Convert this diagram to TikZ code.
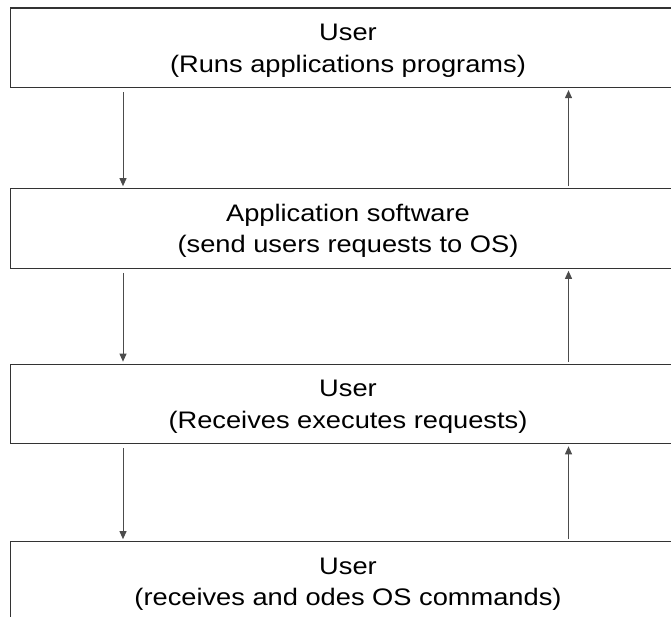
\documentclass[tikz,border=0pt]{standalone}
\usepackage{fontspec}
\setmainfont{Liberation Sans}[FakeStretch=1.14]
\usetikzlibrary{arrows.meta}
\begin{document}
\begin{tikzpicture}[x=1pt,y=-1pt,
  layerbox/.style={draw=black!80, line width=1.2pt, minimum width=675.5pt, minimum height=79.5pt, inner sep=0pt},
  lbl/.style={anchor=base, inner sep=0pt, font=\fontsize{23.9}{32}\selectfont},
  arr/.style={draw=black!70, line width=1pt, -{Triangle[length=8pt,width=7pt]}}]
\useasboundingbox (0,0) rectangle (671,617);
\clip (0,0) rectangle (671,617);
\fill[white] (0,0) rectangle (671,617);
% boxes
\node[layerbox] (b1) at (348.25,47.75) {};
\node[layerbox] (b2) at (348.25,228.5) {};
\node[layerbox] (b3) at (348.25,404) {};
\node[layerbox] (b4) at (348.25,581.5) {};
% texts
\node[lbl] (t1a) at (348,40.5) {User};
\node[lbl] (t1b) at (348,72.5) {(Runs applications programs)};
\node[lbl] (t2a) at (348,221.5) {Application software};
\node[lbl] (t2b) at (348,253) {(send users requests to OS)};
\node[lbl] (t3a) at (348,396.5) {User};
\node[lbl] (t3b) at (348,428.5) {(Receives executes requests)};
\node[lbl] (t4a) at (348,574) {User};
\node[lbl] (t4b) at (348,605.5) {(receives and odes OS commands)};
% arrow columns
\coordinate (dn) at (123,0);
\coordinate (up) at (568.5,0);
% down arrows
\draw[arr, shorten <=4pt, shorten >=2pt] (b1.south -| dn) -- (b2.north -| dn);
\draw[arr, shorten <=4pt, shorten >=2pt] (b2.south -| dn) -- (b3.north -| dn);
\draw[arr, shorten <=4pt, shorten >=2pt] (b3.south -| dn) -- (b4.north -| dn);
% up arrows
\draw[arr, shorten <=2pt, shorten >=2pt] (b2.north -| up) -- (b1.south -| up);
\draw[arr, shorten <=2pt, shorten >=2pt] (b3.north -| up) -- (b2.south -| up);
\draw[arr, shorten <=2pt, shorten >=2pt] (b4.north -| up) -- (b3.south -| up);
\end{tikzpicture}
\end{document}
